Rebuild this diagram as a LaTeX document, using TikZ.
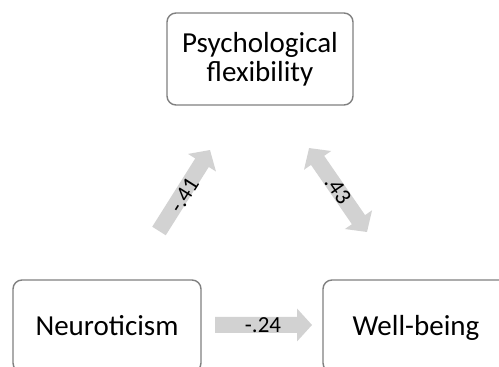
\documentclass[tikz,border=0pt]{standalone}
\usepackage{fontspec}
\setmainfont{Carlito}
\definecolor{boxline}{RGB}{128,128,128}
\definecolor{arrowfill}{RGB}{210,210,210}
\tikzset{
  x=1pt, y=1pt,
  box/.style={draw=boxline, line width=1.4pt, rounded corners=9pt, fill=white,
    minimum width=186pt, minimum height=92pt, inner sep=0pt, align=center,
    font=\fontsize{29}{29}\selectfont},
  oneline/.style={text height=18.7pt, text depth=0pt},
  coef/.style={font=\fontsize{23}{24}\selectfont, inner sep=0pt},
  pics/onearrow/.style={code={
    \fill[arrowfill] (0,-8) -- ({#1-15},-8) -- ({#1-15},-16.5) -- (#1,0)
      -- ({#1-15},16.5) -- ({#1-15},8) -- (0,8) -- cycle;}},
  pics/twoarrow/.style={code={
    \fill[arrowfill] (0,0) -- (15,-16.5) -- (15,-8) -- ({#1-15},-8) -- ({#1-15},-16.5) -- (#1,0)
      -- ({#1-15},16.5) -- ({#1-15},8) -- (15,8) -- (15,16.5) -- cycle;}},
}
\begin{document}
\begin{tikzpicture}
\useasboundingbox (0,0) rectangle (499,367);
\clip (0,0) rectangle (499,367);
\node[box] (psy) at (260,308) {Psychological\\flexibility};
\node[box, oneline, minimum width=188pt] (neuro) at (107,41) {Neuroticism};
\node[box, oneline] (well) at (416,41) {Well-being};
% arrows
\pic[rotate=57.8] at (159,136) {onearrow=95.7};
\pic at (215,42) {onearrow=97};
\pic[rotate=124.6] at (367,135) {twoarrow=102};
\node[coef, rotate=57.8] (c1) at (184,172) {-.41};
\node[coef, rotate=-55.4] (c2) at (338,177) {.43};
\node[coef] (c3) at (263,42) {-.24};
\end{tikzpicture}
\end{document}
